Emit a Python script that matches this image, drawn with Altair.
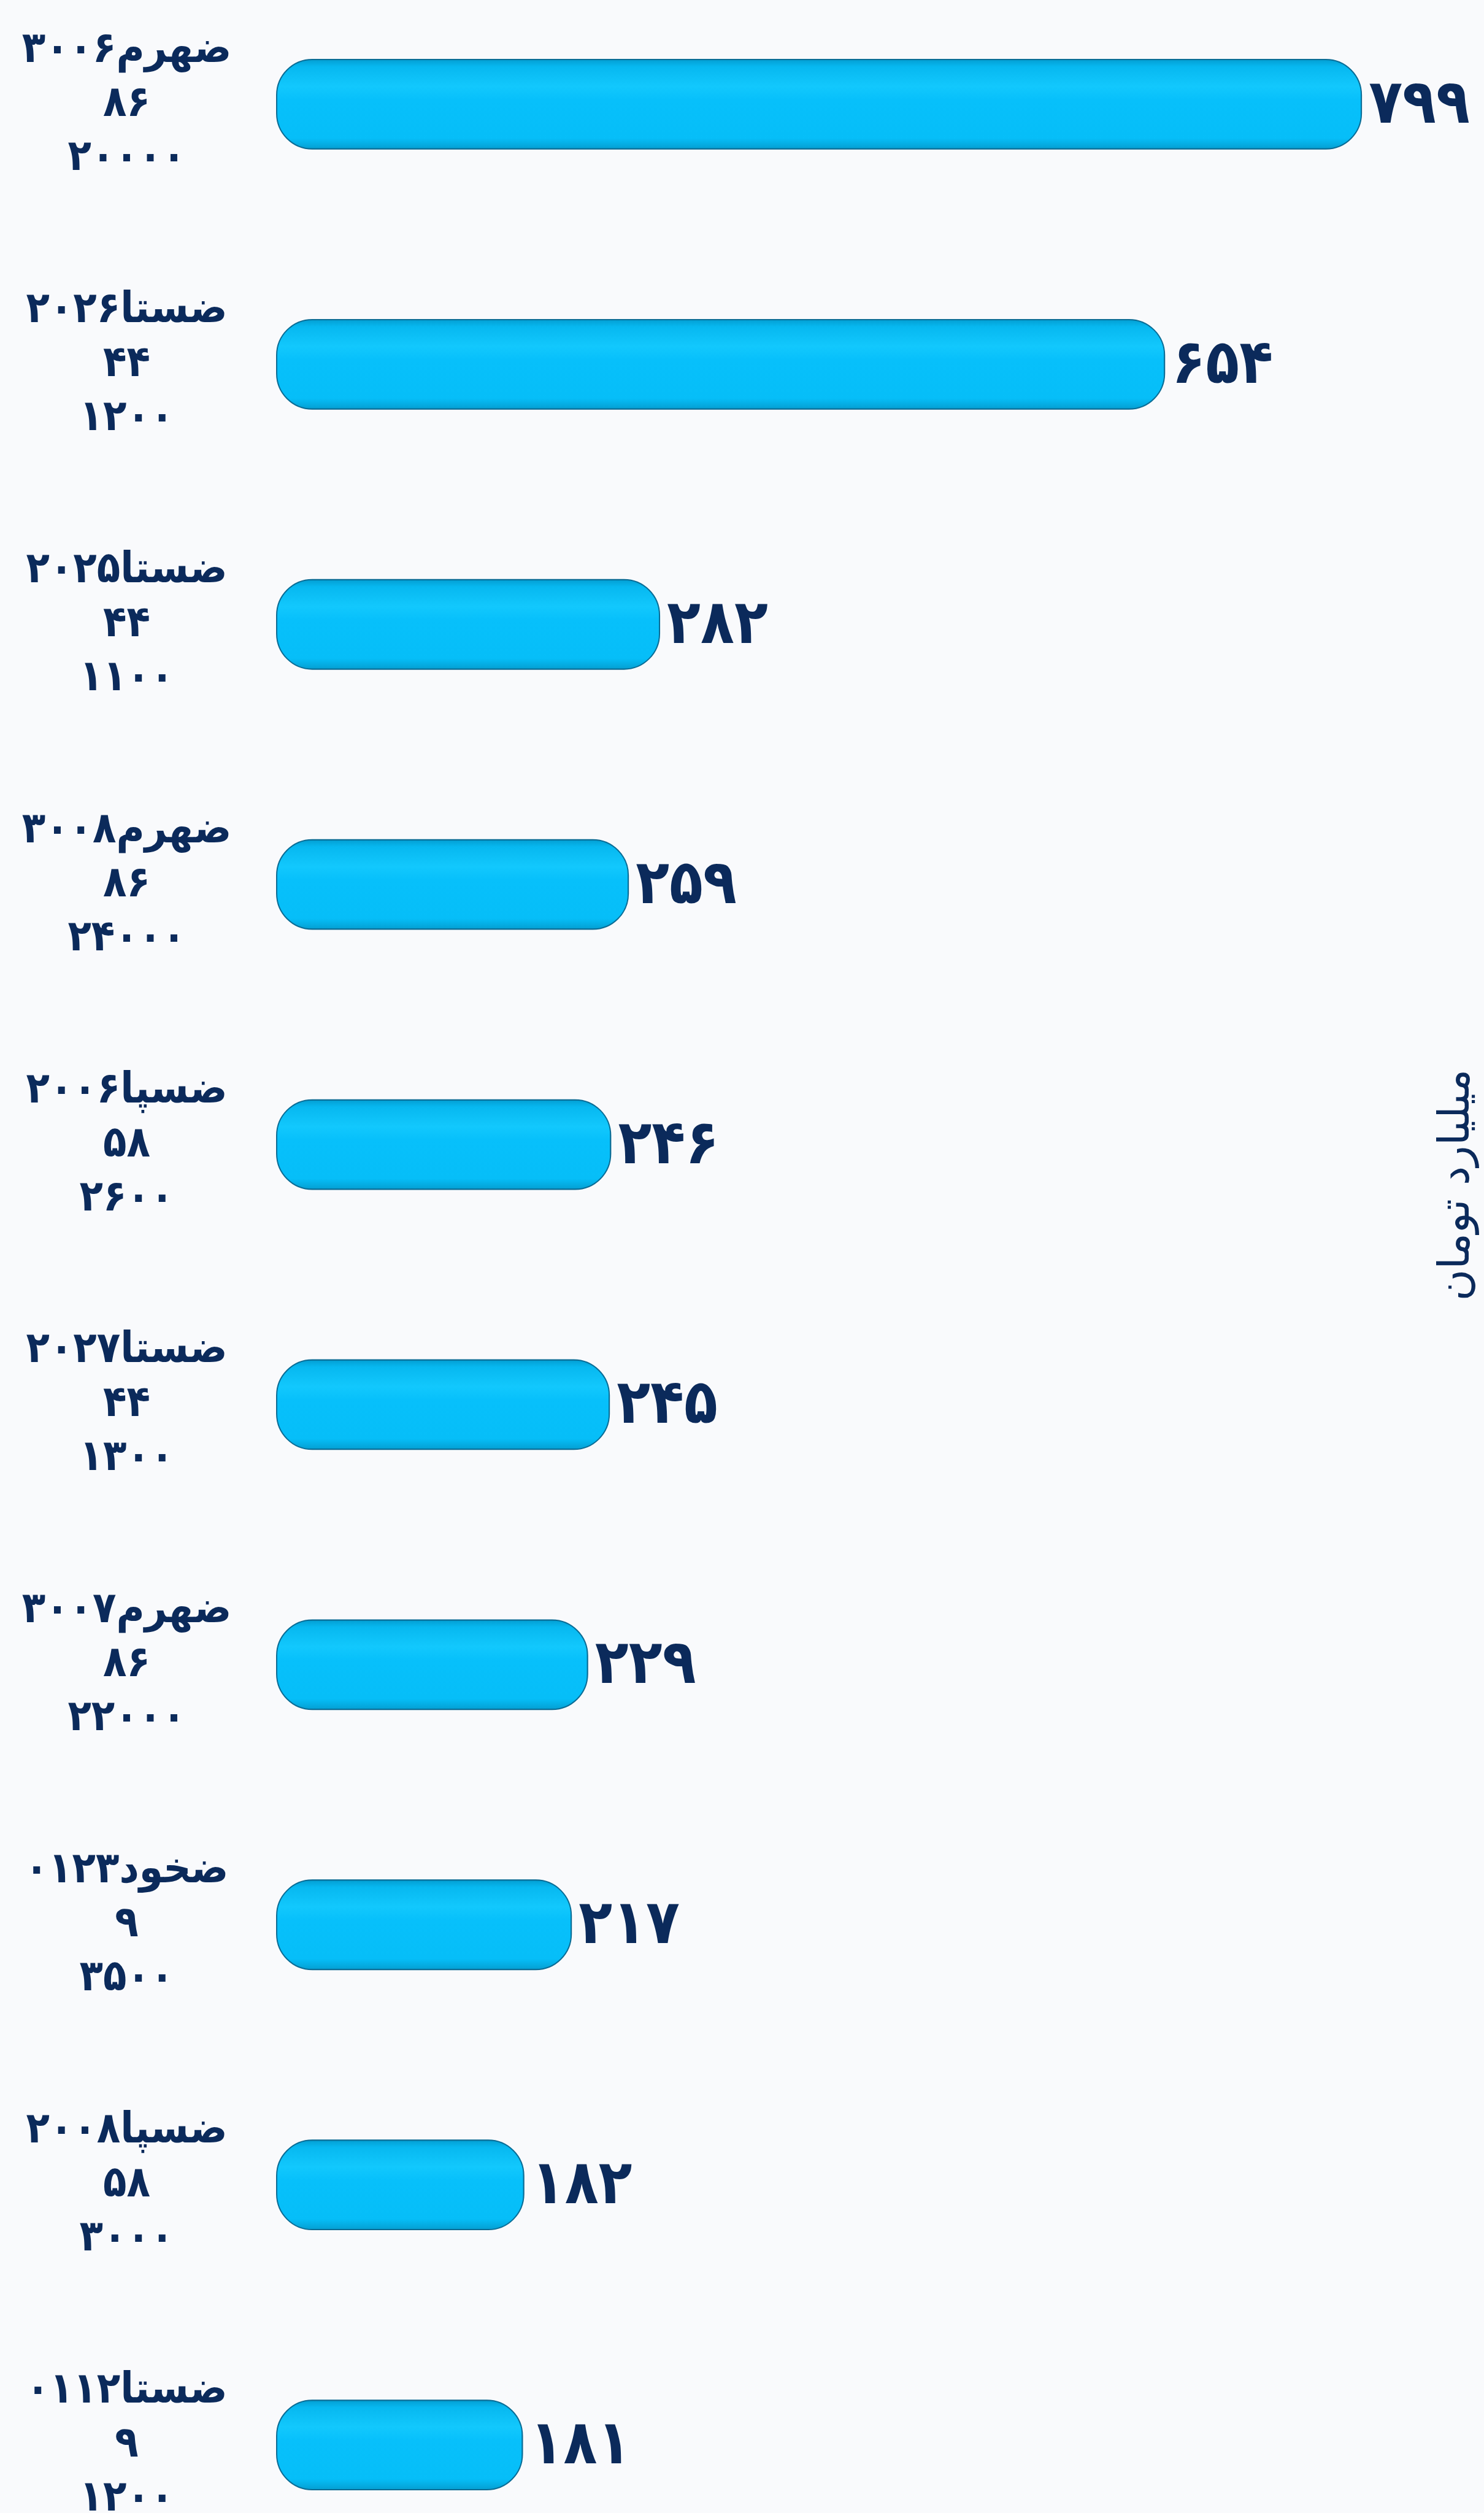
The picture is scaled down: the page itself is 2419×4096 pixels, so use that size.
import altair as alt
import pandas as pd

# Option symbols (line 1), line 2 and line 3 of each category label
symbols = ["ضهرم۳۰۰۶", "ضستا۲۰۲۶", "ضستا۲۰۲۵", "ضهرم۳۰۰۸", "ضسپا۲۰۰۶",
           "ضستا۲۰۲۷", "ضهرم۳۰۰۷", "ضخود۰۱۲۳", "ضسپا۲۰۰۸", "ضستا۰۱۱۲"]
days = ["۸۶", "۴۴", "۴۴", "۸۶", "۵۸", "۴۴", "۸۶", "۹", "۵۸", "۹"]
strikes = ["۲۰۰۰۰", "۱۲۰۰", "۱۱۰۰", "۲۴۰۰۰", "۲۶۰۰", "۱۳۰۰", "۲۲۰۰۰", "۳۵۰۰", "۳۰۰۰", "۱۲۰۰"]
values = [799, 654, 282, 259, 246, 245, 229, 217, 182, 181]

axis_title = "میلیارد تومان"

fa_digits = str.maketrans("0123456789", "۰۱۲۳۴۵۶۷۸۹")

df = pd.DataFrame({
    "label": [f"{s}|{d}|{k}" for s, d, k in zip(symbols, days, strikes)],
    "value": values,
    "vlabel": [str(v).translate(fa_digits) for v in values],
})

NAVY = "#0B2A5B"
FONT = "DejaVu Sans"
FONT_C = "DejaVu Sans Condensed, DejaVu Sans"

grad = alt.LinearGradient(
    gradient="linear",
    stops=[
        alt.GradientStop(color="#039ED2", offset=0),
        alt.GradientStop(color="#07B8F0", offset=0.08),
        alt.GradientStop(color="#12C8FD", offset=0.3),
        alt.GradientStop(color="#07C0FB", offset=0.45),
        alt.GradientStop(color="#06BEF8", offset=0.88),
        alt.GradientStop(color="#049FD2", offset=1),
    ],
    x1=0, x2=0, y1=0, y2=1,
)

yscale = alt.Scale(paddingInner=0.656, paddingOuter=0)

base = alt.Chart(df)

bars = base.mark_bar(cornerRadius=58, stroke="#0A6C95", strokeWidth=2, color=grad).encode(
    x=alt.X("value:Q", scale=alt.Scale(domain=[0, 850], nice=False, zero=True), axis=None),
    y=alt.Y(
        "label:N", sort=None, scale=yscale,
        axis=alt.Axis(
            title=None, labelExpr="split(datum.label, '|')", labelLineHeight=88,
            labelFontSize=70, labelFont=FONT_C, labelFontWeight="bold", labelColor=NAVY,
            labelAlign="center", labelBaseline="middle", labelPadding=245,
            labelOffset=-90,
            ticks=False, tickSize=0, domain=False, labelLimit=2000, grid=False,
        ),
    ),
)

text = base.mark_text(
    align="left", baseline="middle", dx=12, fontSize=100, font=FONT_C,
    fontWeight="bold", color=NAVY,
).encode(
    x=alt.X("value:Q"),
    y=alt.Y(
        "label:N", sort=None, scale=yscale,
        axis=alt.Axis(
            orient="right", labels=False, ticks=False, domain=False, grid=False,
            title=axis_title, titleFontSize=70, titleFont=FONT, titleColor=NAVY,
            titleFontWeight="normal", titleAngle=270, titleX=40, titleY=1834,
            titleAlign="center", titleBaseline="middle",
        ),
    ),
    text="vlabel:N",
)

chart = (
    alt.layer(bars, text)
    .resolve_scale(y="shared")
    .resolve_axis(y="independent")
    .properties(
        width=1881, height=3961,
        autosize=alt.AutoSizeParams(type="none"),
        padding={"left": 451, "top": 97, "right": 87, "bottom": 38},
        background="#F9FAFC",
    )
    .configure_view(stroke=None)
)

chart.save("out.html", embed_options={"renderer": "svg", "actions": False})
